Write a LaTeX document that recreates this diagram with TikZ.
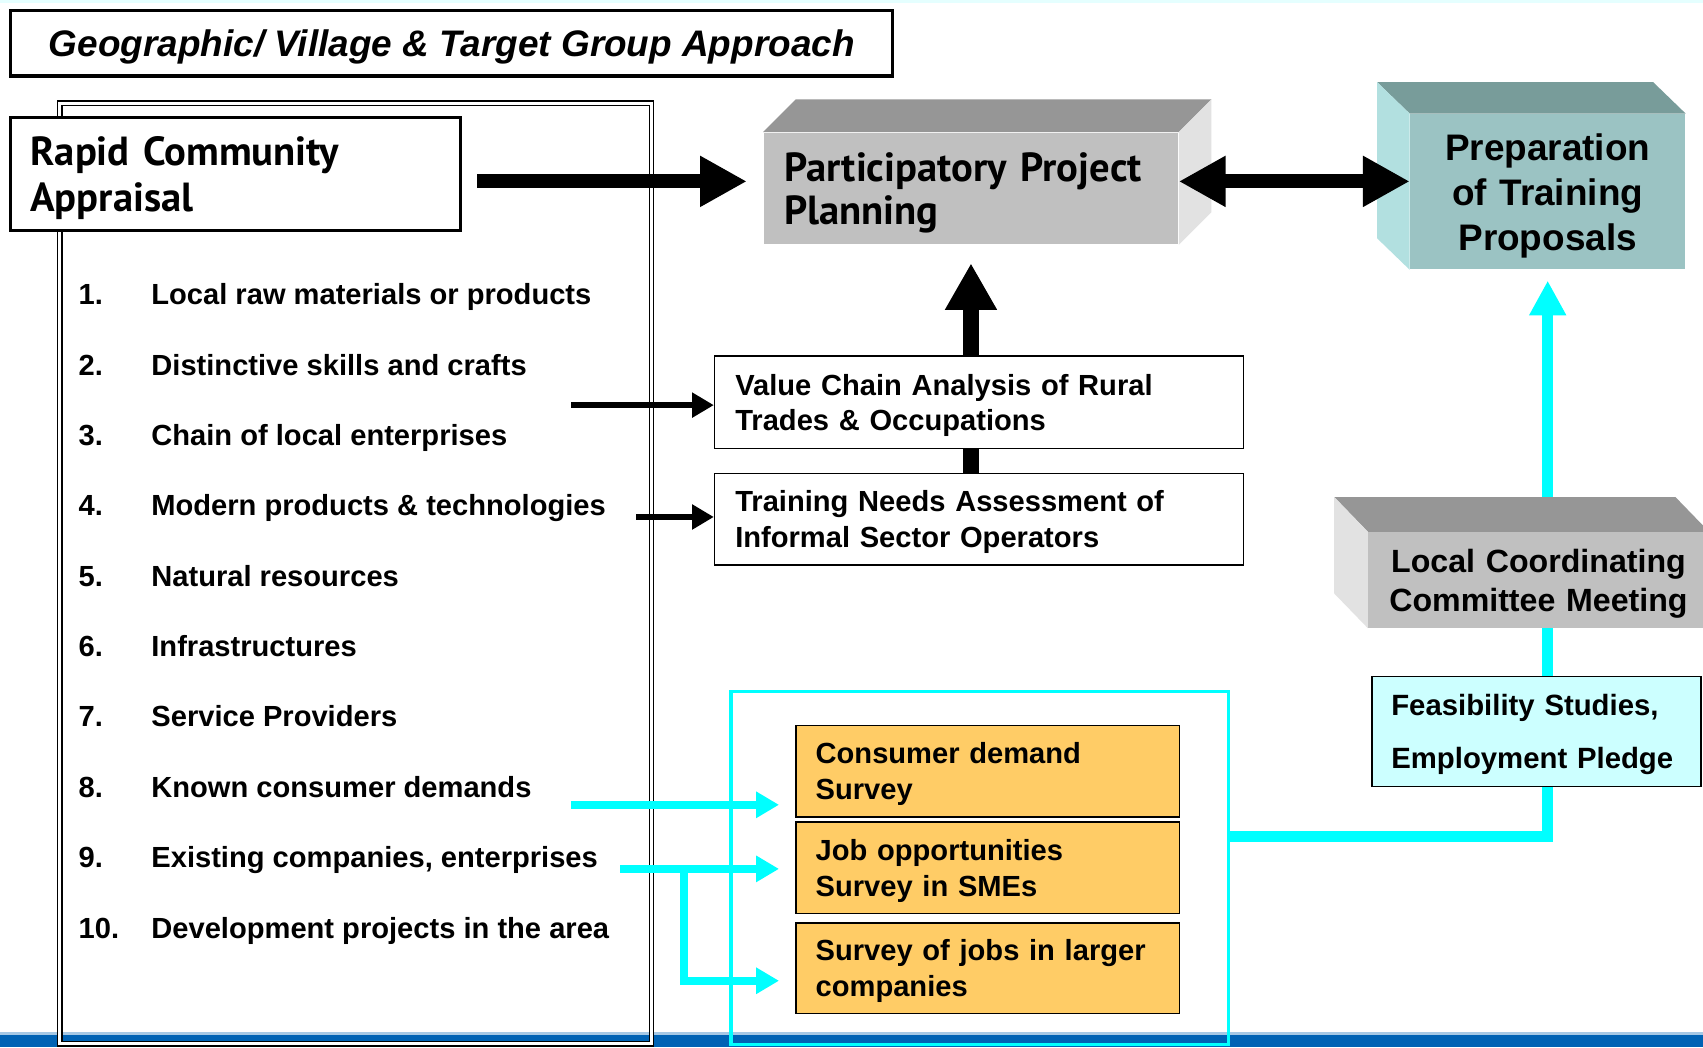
\documentclass[tikz,border=0pt]{standalone}
\usepackage{fontspec}
\setmainfont{Liberation Sans}
\newfontfamily\humsans{PT Sans}
\usepackage{xcolor}
\usetikzlibrary{positioning,arrows.meta,calc}
\definecolor{boxgray}{HTML}{C0C0C0}
\definecolor{topgray}{HTML}{969696}
\definecolor{sidegray}{HTML}{E2E2E2}
\definecolor{tealfront}{HTML}{9BC3C3}
\definecolor{tealtop}{HTML}{789C9A}
\definecolor{tealside}{HTML}{B2E0E0}
\definecolor{survey}{HTML}{FFCC66}
\definecolor{paleaqua}{HTML}{CCFFFF}
\definecolor{aqua}{HTML}{00FFFF}
\definecolor{barblue}{HTML}{0062B4}

\begin{document}
\begin{tikzpicture}[x=0.5pt, y=-0.5pt,
  font=\bfseries\fontsize{13.4}{16.5}\selectfont,
  item/.style={anchor=base west, inner sep=0pt},
  heavybox/.style={draw, line width=1.5pt, fill=white, align=left, inner xsep=9pt, inner ysep=0pt,
    text depth=21pt, font=\humsans\bfseries\fontsize{18.7}{21}\selectfont},
  tbox/.style={draw, line width=0.75pt, fill=white, align=left, inner xsep=9.5pt, inner ysep=0pt,
    text depth=16.5pt},
  svy/.style={draw, line width=0.75pt, fill=survey, align=left, inner xsep=9pt, inner ysep=0pt,
    text depth=16.5pt, text width=158.5pt, minimum height=42pt},
  front/.style={inner ysep=0pt},
  bigarr/.style={line width=6.5pt, -{Triangle[length=21.5pt, width=22pt]}},
  smarr/.style={line width=3pt, -{Triangle[length=10pt, width=11pt]}},
  cyarr/.style={aqua, line width=3.5pt, -{Triangle[length=10.5pt, width=11.5pt]}},
  cyline/.style={aqua, line width=5pt}]
\clip (0,0) rectangle (1568,964);
\fill[white] (0,0) rectangle (1568,964);
\fill[aqua!10] (0,0) rectangle (1568,3);
% bottom band
\fill[barblue!35] (0,950) rectangle (1568,953);
\fill[barblue] (0,953) rectangle (1568,964);
% heading
\node[draw, line width=1.5pt, minimum width=406pt, minimum height=30pt, text depth=0pt,
  font=\bfseries\itshape\fontsize{17}{20}\selectfont] (head) at (416,40)
  {Geographic/ Village \& Target Group Approach};
% appraisal list
\node[draw, double, line width=0.6pt, double distance=1.4pt, minimum width=272.5pt,
  minimum height=433pt] (frame) at (327.5,528) {};
\node[heavybox, text width=189pt, minimum height=52pt] (rca) at (217,160)
  {Rapid Community\\Appraisal};
\foreach \txt [count=\i] in {Local raw materials or products, Distinctive skills and crafts,
  Chain of local enterprises, Modern products \& technologies, Natural resources,
  Infrastructures, Service Providers, Known consumer demands,
  {Existing companies, enterprises}, Development projects in the area} {
  \node[item] (num\i) at (72,{215.7+64.8*\i}) {\i.};
  \node[item] (item\i) at (139,{215.7+64.8*\i}) {\txt};
}
% planning and proposals
\node[front, fill=boxgray, align=left, text width=172pt, inner xsep=9.5pt, minimum height=51.5pt,
  text depth=20pt, font=\humsans\bfseries\fontsize{18.7}{20}\selectfont] (ppp) at (894,173.5)
  {Participatory Project\\Planning};
\node[front, fill=tealfront, align=center, text width=120pt, minimum height=71.5pt,
  text depth=41.5pt, font=\bfseries\fontsize{17}{20.75}\selectfont] (ptp) at (1425,176.5)
  {Preparation\\of Training\\Proposals};
% analyses
\node[tbox, text width=224.5pt, minimum height=42.5pt] (vca) at (901.5,370.5)
  {Value Chain Analysis of Rural\\Trades \& Occupations};
\node[tbox, text width=224.5pt, minimum height=42pt] (tna) at (901.5,478)
  {Training Needs Assessment of\\Informal Sector Operators};
% surveys
\node[draw=aqua, line width=1.5pt, minimum width=229pt, minimum height=162.5pt] (svybox) at (902,799.5) {};
\node[svy] (cds) at (909.5,710) {Consumer demand\\Survey};
\node[svy] (jos) at (909.5,799) {Job opportunities\\Survey in SMEs};
\node[svy, minimum height=41.5pt] (sjl) at (909.5,891.5) {Survey of jobs in larger\\companies};
% committee
\node[draw, line width=0.75pt, fill=paleaqua, align=left, text width=133.5pt, inner xsep=9pt,
  inner ysep=0pt, text depth=24.5pt, minimum height=50.5pt, font=\bfseries\fontsize{13.5}{24.5}\selectfont] (fse)
  at (1414.5,673.5) {Feasibility Studies,\\Employment Pledge};
\node[front, fill=boxgray, align=center, text width=150pt, minimum height=44pt,
  text depth=18pt, font=\bfseries\fontsize{14.8}{18}\selectfont] (lcc) at (1416.5,534)
  {Local Coordinating\\Committee Meeting};
% box faces
\fill[topgray] (ppp.north west) -- ++(30,-30) -- ($(ppp.north east)+(30,-30)$) -- (ppp.north east) -- cycle;
\fill[sidegray] (ppp.north east) -- ++(30,-30) -- ($(ppp.south east)+(30,-30)$) -- (ppp.south east) -- cycle;
\fill[tealtop] (ptp.north east) -- ++(-30,-29) -- ($(ptp.north west)+(-30,-29)$) -- (ptp.north west) -- cycle;
\fill[tealside] (ptp.north west) -- ++(-30,-29) -- ($(ptp.south west)+(-30,-29)$) -- (ptp.south west) -- cycle;
\fill[topgray] (lcc.north east) -- ++(-31,-32) -- ($(lcc.north west)+(-31,-32)$) -- (lcc.north west) -- cycle;
\fill[sidegray] (lcc.north west) -- ++(-31,-32) -- ($(lcc.south west)+(-31,-32)$) -- (lcc.south west) -- cycle;
% black connectors
\coordinate (lvl) at (0,167);
\coordinate (s23) at (526,373);
\coordinate (s4) at (586,476);
\draw[bigarr, shorten <=7pt, shorten >=7.5pt] (rca.east |- lvl) -- (ppp.west |- lvl);
\draw[line width=6.5pt, {Triangle[length=21.5pt, width=22pt]}-{Triangle[length=21.5pt, width=22pt]}]
  (ppp.east |- lvl) -- (ptp.west |- lvl);
\draw[line width=7pt] (tna.north -| ppp.south) -- (vca.south -| ppp.south);
\draw[line width=7pt, -{Triangle[length=21.5pt, width=22.5pt]}, shorten >=8.5pt]
  (vca.north -| ppp.south) -- (ppp.south);
\draw[smarr] (s23) -- (s23 -| vca.west);
\draw[smarr] (s4) -- (s4 -| tna.west);
% cyan connectors
\coordinate (s8) at (526,741);
\coordinate (s9) at (571,800);
\coordinate (fork) at (630,800);
\coordinate (lowtap) at (630,903);
\draw[cyarr, shorten >=7.5pt] (s8) -- (s8 -| cds.west);
\draw[cyarr, shorten >=7.5pt] (s9) -- (s9 -| jos.west);
\draw[cyarr, shorten >=7.5pt] (fork) -- (lowtap) -- (lowtap -| sjl.west);
\draw[cyline] ($(svybox.east)+(0,-29.5)$) -| (fse.south -| ptp.south);
\draw[cyline] (fse.north -| ptp.south) -- (lcc.south -| ptp.south);
\draw[cyline, -{Triangle[length=16pt, width=16pt]}, shorten <=16pt, shorten >=5pt]
  (lcc.north -| ptp.south) -- (ptp.south);
\end{tikzpicture}
\end{document}
